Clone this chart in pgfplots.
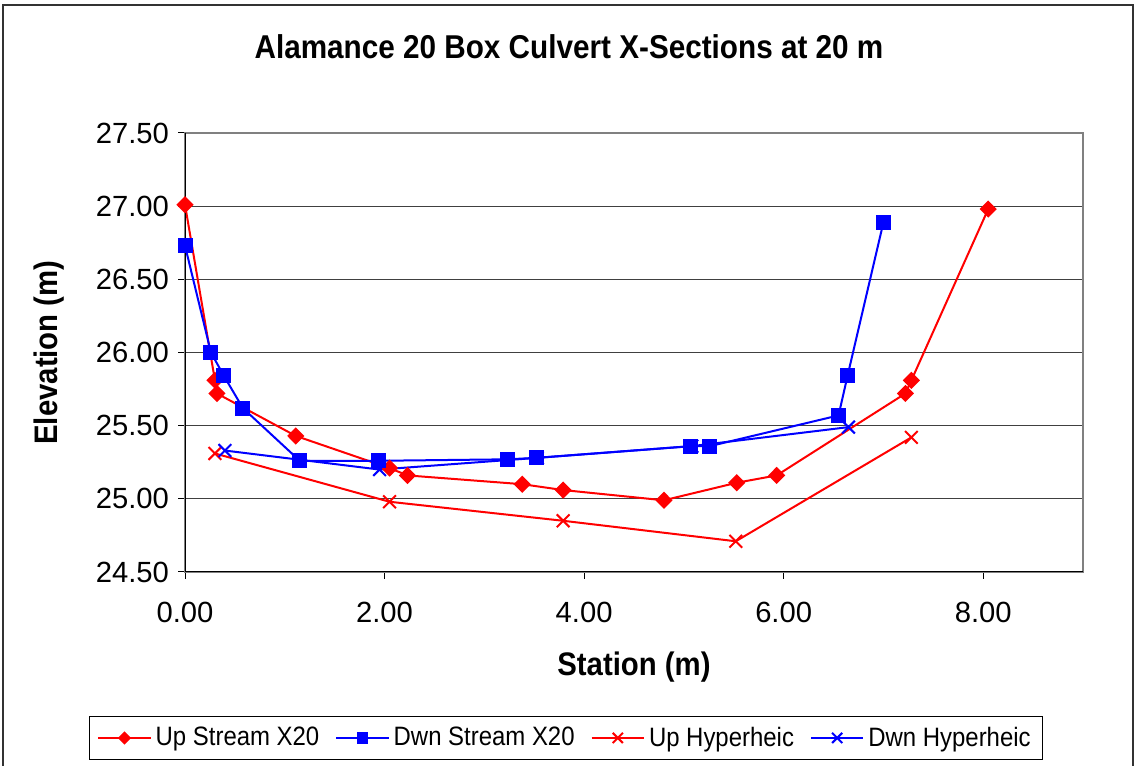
\documentclass[border=0pt]{standalone}
\usepackage{pgfplots}
\pgfplotsset{compat=1.18}
\usepackage{fontspec}
\setmainfont{Liberation Sans}
\newfontfamily\cond[FakeStretch=0.9]{Liberation Sans}
\definecolor{xred}{RGB}{255,0,0}
\definecolor{xblue}{RGB}{0,0,255}
\begin{document}
\begin{tikzpicture}
\useasboundingbox (0,0) rectangle (567pt,382.5pt);
\draw[line width=1pt, black!80] (1.5pt,-5pt) rectangle (566.5pt,380pt);
\node[font=\cond\fontsize{16.5}{18}\bfseries] at (284.5pt,359pt) {Alamance 20 Box Culvert X-Sections at 20 m};
\begin{axis}[
  at={(92.5pt,96.5pt)}, anchor=south west,
  scale only axis, width=449pt, height=219.5pt,
  xmin=0, xmax=9, ymin=24.5, ymax=27.5,
  xtick={0,2,4,6,8}, ytick={24.5,25,25.5,26,26.5,27,27.5},
  xtick pos=bottom, ytick pos=left,
  tick align=outside, major tick length=3.5pt,
  tick style={black, line width=0.5pt},
  ymajorgrids, grid style={black!75, line width=0.5pt},
  axis line style={draw=gray, line width=0.8pt},
  /pgf/number format/.cd, fixed, fixed zerofill, precision=2, assume math mode=true, /pgfplots/.cd,
  ticklabel style={font=\fontsize{14.6}{16}\selectfont},
  xticklabel style={yshift=-8pt},
  yticklabel style={xshift=-1pt},
  xlabel={\cond\fontsize{16.3}{18}\bfseries Station (m)},
  ylabel={\cond\fontsize{16.3}{18}\bfseries Elevation (m)},
  xlabel style={at={(0.5,-0.217)}, anchor=center},
  ylabel style={at={(-0.151,0.5)}, anchor=center},
  legend columns=4,
  legend style={at={(0.4243,-0.378)}, anchor=center, draw=black, line width=0.5pt,
    font=\cond\fontsize{13.3}{15}\selectfont, inner xsep=4pt, inner ysep=3pt,
    /tikz/every even column/.append style={column sep=6pt}},
  legend image code/.code={\draw[mark repeat=2,mark phase=2] plot coordinates {(0cm,0cm) (0.46cm,0cm) (0.92cm,0cm)};},
  every axis plot/.append style={line width=1pt},
]
\addplot[xred, mark=diamond*, mark size=3.6pt, mark options={xscale=1.33}, legend image post style={mark size=2.6pt}] coordinates {
(0.00,27.01) (0.30,25.81) (0.32,25.72) (1.11,25.43) (2.05,25.21) (2.23,25.16) (3.38,25.10) (3.79,25.06) (4.80,24.99) (5.53,25.11) (5.93,25.16) (7.22,25.72) (7.28,25.81) (8.05,26.98)};
\addlegendentry{Up Stream X20}
\addplot[xblue, mark=square*, mark size=3.25pt, legend image post style={mark size=2.3pt}] coordinates {
(0.00,26.73) (0.26,26.00) (0.39,25.84) (0.58,25.62) (1.15,25.26) (1.94,25.26) (3.23,25.27) (3.52,25.28) (5.07,25.36) (5.26,25.36) (6.55,25.57) (6.64,25.84) (7.00,26.89)};
\addlegendentry{Dwn Stream X20}
\addplot[xred, mark=x, mark size=4.5pt, legend image post style={mark size=3.6pt}] coordinates {
(0.30,25.31) (2.05,24.98) (3.79,24.85) (5.52,24.71) (7.28,25.42)};
\addlegendentry{Up Hyperheic}
\addplot[xblue, mark=x, mark size=4.5pt, legend image post style={mark size=3.6pt}] coordinates {
(0.40,25.33) (1.95,25.20) (3.53,25.28) (5.08,25.36) (6.65,25.49)};
\addlegendentry{Dwn Hyperheic}
\draw[black, line width=0.8pt] (rel axis cs:0,1) -- (rel axis cs:0,0) -- (rel axis cs:1,0);
\end{axis}
\end{tikzpicture}
\end{document}
